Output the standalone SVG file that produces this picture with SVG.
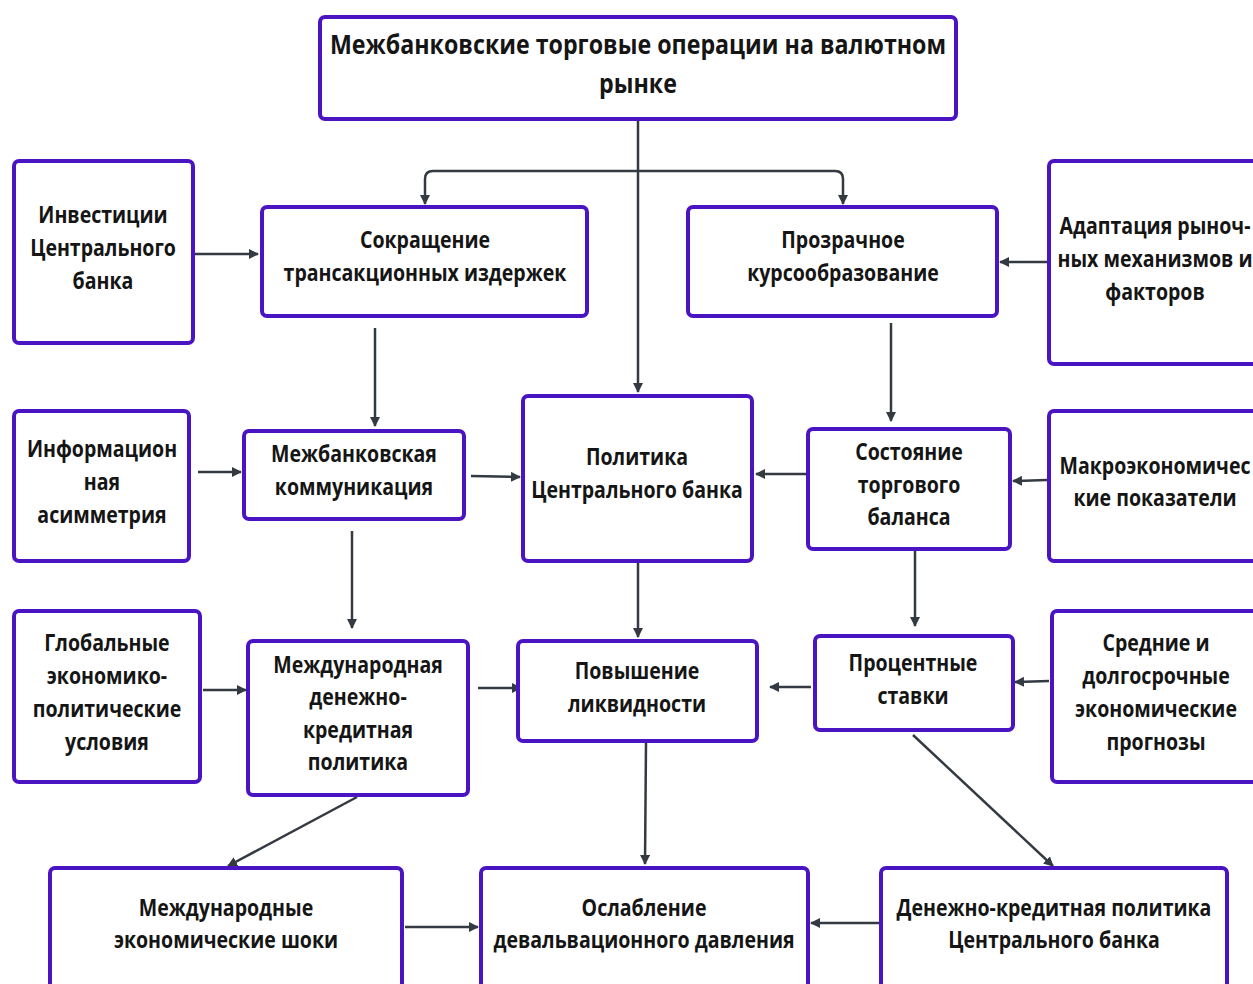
<svg xmlns="http://www.w3.org/2000/svg" width="1253" height="984" viewBox="0 0 1253 984">
<defs>
<style>
.b{fill:#fff;stroke:#4b14c2;stroke-width:4}
.t{font-family:"Open Sans","Noto Sans",sans-serif;font-weight:700;font-size:23px;fill:#151515;text-anchor:middle}
.tt{font-size:27px}
.c{fill:none;stroke:#333a42;stroke-width:2.5}
</style>
<marker id="a" viewBox="0 0 10 10" refX="9" refY="5" markerWidth="4" markerHeight="4" orient="auto" markerUnits="strokeWidth"><path d="M0,0 L10,5 L0,10 z" fill="#333a42"/></marker>
</defs>
<rect width="1253" height="984" fill="#fff"/>
<g id="connectors">
<path class="c" d="M638,119 V392" marker-end="url(#a)"/>
<path class="c" d="M638,171 H433 Q425,171 425,179 V204" marker-end="url(#a)"/>
<path class="c" d="M638,171 H835 Q843,171 843,179 V204" marker-end="url(#a)"/>
<path class="c" d="M195,254 H258" marker-end="url(#a)"/>
<path class="c" d="M1047,262 H1000" marker-end="url(#a)"/>
<path class="c" d="M375,328 V426" marker-end="url(#a)"/>
<path class="c" d="M891,323 V421" marker-end="url(#a)"/>
<path class="c" d="M198,472 H241" marker-end="url(#a)"/>
<path class="c" d="M471,476 L520,477" marker-end="url(#a)"/>
<path class="c" d="M806,474 H756" marker-end="url(#a)"/>
<path class="c" d="M1047,480 L1013,481" marker-end="url(#a)"/>
<path class="c" d="M352,531 V628" marker-end="url(#a)"/>
<path class="c" d="M915,528 V626" marker-end="url(#a)"/>
<path class="c" d="M638,563 V637" marker-end="url(#a)"/>
<path class="c" d="M203,690 H246" marker-end="url(#a)"/>
<path class="c" d="M478,688 H521" marker-end="url(#a)"/>
<path class="c" d="M811,687 H770" marker-end="url(#a)"/>
<path class="c" d="M1049,681 L1015,682" marker-end="url(#a)"/>
<path class="c" d="M357,797 L228,866" marker-end="url(#a)"/>
<path class="c" d="M646,743 L645,864" marker-end="url(#a)"/>
<path class="c" d="M913,735 L1053,866" marker-end="url(#a)"/>
<path class="c" d="M405,927 H478" marker-end="url(#a)"/>
<path class="c" d="M879,923 H811" marker-end="url(#a)"/>
</g>
<g id="n1"><rect class="b" x="320" y="17" width="636" height="102" rx="5"/>
<g transform="translate(638 0) scale(0.86 1)"><text class="t tt" x="0" y="54">Межбанковские торговые операции на валютном</text>
<text class="t tt" x="0" y="93">рынке</text></g></g>
<g id="n2"><rect class="b" x="14" y="161" width="179" height="182" rx="5"/>
<g transform="translate(103 0) scale(0.85 1)"><text class="t" x="0" y="223">Инвестиции</text><text class="t" x="0" y="256">Центрального</text><text class="t" x="0" y="289">банка</text></g></g>
<g id="n3"><rect class="b" x="262" y="207" width="325" height="109" rx="5"/>
<g transform="translate(425 0) scale(0.85 1)"><text class="t" x="0" y="248">Сокращение</text><text class="t" x="0" y="281">трансакционных издержек</text></g></g>
<g id="n4"><rect class="b" x="688" y="207" width="309" height="109" rx="5"/>
<g transform="translate(843 0) scale(0.85 1)"><text class="t" x="0" y="248">Прозрачное</text><text class="t" x="0" y="281">курсообразование</text></g></g>
<g id="n5"><rect class="b" x="1049" y="161" width="215" height="203" rx="5"/>
<g transform="translate(1155 0) scale(0.85 1)"><text class="t" x="0" y="234">Адаптация рыноч-</text><text class="t" x="0" y="267">ных механизмов и</text><text class="t" x="0" y="300">факторов</text></g></g>
<g id="n6"><rect class="b" x="14" y="411" width="175" height="150" rx="5"/>
<g transform="translate(102 0) scale(0.85 1)"><text class="t" x="0" y="457">Информацион</text><text class="t" x="0" y="490">ная</text><text class="t" x="0" y="523">асимметрия</text></g></g>
<g id="n7"><rect class="b" x="244" y="431" width="220" height="88" rx="5"/>
<g transform="translate(354 0) scale(0.85 1)"><text class="t" x="0" y="462">Межбанковская</text><text class="t" x="0" y="495">коммуникация</text></g></g>
<g id="n8"><rect class="b" x="523" y="396" width="229" height="165" rx="5"/>
<g transform="translate(637 0) scale(0.85 1)"><text class="t" x="0" y="465">Политика</text><text class="t" x="0" y="498">Центрального банка</text></g></g>
<g id="n9"><rect class="b" x="808" y="429" width="202" height="120" rx="5"/>
<g transform="translate(909 0) scale(0.85 1)"><text class="t" x="0" y="460">Состояние</text><text class="t" x="0" y="493">торгового</text><text class="t" x="0" y="525">баланса</text></g></g>
<g id="n10"><rect class="b" x="1049" y="411" width="215" height="150" rx="5"/>
<g transform="translate(1155 0) scale(0.85 1)"><text class="t" x="0" y="474">Макроэкономичес</text><text class="t" x="0" y="506">кие показатели</text></g></g>
<g id="n11"><rect class="b" x="14" y="611" width="186" height="171" rx="5"/>
<g transform="translate(107 0) scale(0.85 1)"><text class="t" x="0" y="651">Глобальные</text><text class="t" x="0" y="684">экономико-</text><text class="t" x="0" y="717">политические</text><text class="t" x="0" y="750">условия</text></g></g>
<g id="n12"><rect class="b" x="248" y="641" width="220" height="154" rx="5"/>
<g transform="translate(358 0) scale(0.85 1)"><text class="t" x="0" y="673">Международная</text><text class="t" x="0" y="705">денежно-</text><text class="t" x="0" y="738">кредитная</text><text class="t" x="0" y="770">политика</text></g></g>
<g id="n13"><rect class="b" x="518" y="641" width="239" height="100" rx="5"/>
<g transform="translate(637 0) scale(0.85 1)"><text class="t" x="0" y="679">Повышение</text><text class="t" x="0" y="712">ликвидности</text></g></g>
<g id="n14"><rect class="b" x="815" y="636" width="198" height="94" rx="5"/>
<g transform="translate(913 0) scale(0.85 1)"><text class="t" x="0" y="671">Процентные</text><text class="t" x="0" y="704">ставки</text></g></g>
<g id="n15"><rect class="b" x="1052" y="611" width="212" height="171" rx="5"/>
<g transform="translate(1156 0) scale(0.85 1)"><text class="t" x="0" y="651">Средние и</text><text class="t" x="0" y="684">долгосрочные</text><text class="t" x="0" y="717">экономические</text><text class="t" x="0" y="750">прогнозы</text></g></g>
<g id="n16"><rect class="b" x="50" y="868" width="352" height="130" rx="5"/>
<g transform="translate(226 0) scale(0.85 1)"><text class="t" x="0" y="916">Международные</text><text class="t" x="0" y="948">экономические шоки</text></g></g>
<g id="n17"><rect class="b" x="481" y="868" width="327" height="130" rx="5"/>
<g transform="translate(644 0) scale(0.85 1)"><text class="t" x="0" y="916">Ослабление</text><text class="t" x="0" y="948">девальвационного давления</text></g></g>
<g id="n18"><rect class="b" x="881" y="868" width="346" height="130" rx="5"/>
<g transform="translate(1054 0) scale(0.85 1)"><text class="t" x="0" y="916">Денежно-кредитная политика</text><text class="t" x="0" y="948">Центрального банка</text></g></g>
</svg>
